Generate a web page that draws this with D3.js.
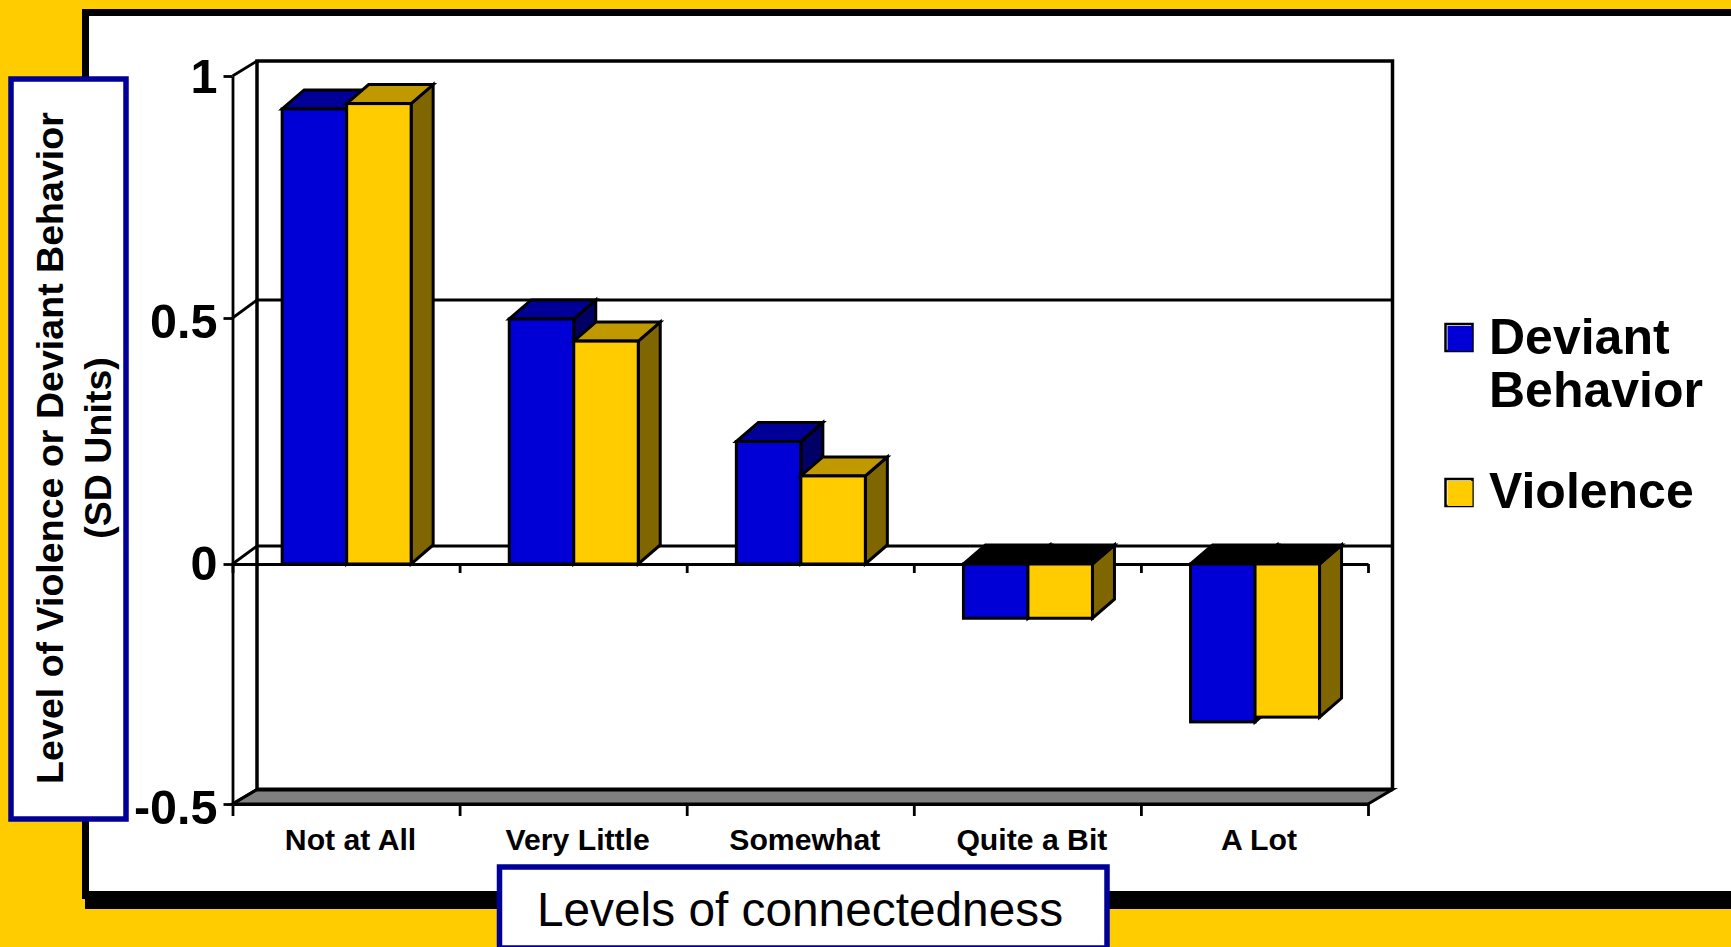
<!DOCTYPE html>
<html>
<head>
<meta charset="utf-8">
<script src="https://cdn.jsdelivr.net/npm/d3@7"></script>
<style>
html,body{margin:0;padding:0;background:#ffcc00;overflow:hidden}
svg{display:block}
text{font-family:"Liberation Sans",Arial,sans-serif;fill:#000}
</style>
</head>
<body>
<svg id="c" width="1731" height="947"></svg>
<script>
const categories = ["Not at All", "Very Little", "Somewhat", "Quite a Bit", "A Lot"];
const seriesNames = ["Deviant Behavior", "Violence"];
const deviantBehavior = [0.932, 0.498, 0.249, -0.113, -0.329];
const violence = [0.943, 0.453, 0.179, -0.113, -0.319];
const yTicks = [-0.5, 0, 0.5, 1];

const frontColors = ["#0000d6", "#ffcc00"];
const topColors = ["#000099", "#c09900"];
const sideColors = ["#000066", "#806600"];
const seriesValues = [deviantBehavior, violence];

const svg = d3.select("#c");
const L = 232.5, R = 1368, DX = 24.5;            // plot box and wall depth
const BDX = 22, BDY = 19;                        // bar depth

const y = d3.scaleLinear().domain([-0.5, 0, 0.5, 1]).range([804, 564, 318, 76]);
const yBack = d3.scaleLinear().domain([-0.5, 0, 0.5, 1]).range([789.5, 546, 300, 61]);
const x0 = d3.scaleBand().domain(categories).range([L, R]).paddingInner(0.432).paddingOuter(0.216);
const x1 = d3.scaleBand().domain(seriesNames).range([0, x0.bandwidth()]);
const xEdge = d3.scaleLinear().domain([0, categories.length]).range([L, R]);
const barShift = 0.6;

// panel
svg.append("rect").attr("x", 85).attr("y", 20).attr("width", 1660).attr("height", 889).attr("fill", "#000");
svg.append("rect").attr("x", 82).attr("y", 9).attr("width", 1660).attr("height", 890).attr("fill", "#000");
svg.append("rect").attr("x", 89).attr("y", 16).attr("width", 1660).attr("height", 875).attr("fill", "#fff");

const g = svg.append("g").attr("fill", "none").attr("stroke", "#000");

// floor
g.append("path")
  .attr("d", d3.line()([[L, y(-0.5)], [R, y(-0.5)], [R + DX, yBack(-0.5)], [L + DX, yBack(-0.5)]]) + "Z")
  .attr("fill", "#808080").attr("stroke-width", 3);

// back wall, gridlines and side wall
g.append("path").attr("stroke-width", 3.5)
  .attr("d", `M${L + DX},${yBack(-0.5)}V${yBack(1)}H${R + DX}V${yBack(-0.5)}`);
g.append("line").attr("x1", L + DX).attr("x2", R + DX).attr("y1", yBack(-0.5)).attr("y2", yBack(-0.5)).attr("stroke-width", 4);
g.selectAll(".grid").data([0, 0.5]).join("line").attr("class", "grid")
  .attr("x1", L + DX).attr("x2", R + DX)
  .attr("y1", d => yBack(d)).attr("y2", d => yBack(d)).attr("stroke-width", 2.8);
g.selectAll(".diag").data(yTicks).join("line").attr("class", "diag")
  .attr("x1", L).attr("x2", L + DX)
  .attr("y1", d => y(d)).attr("y2", d => yBack(d)).attr("stroke-width", 2.8);

// y axis
const yAxis = svg.append("g").attr("transform", `translate(${L},0)`)
  .call(d3.axisLeft(y).tickValues(yTicks).tickSize(9).tickSizeOuter(0).tickPadding(6).tickFormat(d => String(d)));
yAxis.select(".domain").attr("stroke", "#000").attr("stroke-width", 2.8);
yAxis.selectAll(".tick line").attr("stroke", "#000").attr("stroke-width", 2.8);
yAxis.selectAll(".tick text").attr("font-size", 48.5).attr("font-weight", 700)
  .attr("font-family", '"Liberation Sans"').attr("transform", d => `translate(0,${d === 0 ? 0 : d === 1 ? 1 : 4})`);

// tick marks on the zero plane and the floor
[0, -0.5].forEach(v => {
  const a = svg.append("g").attr("transform", `translate(0,${y(v)})`)
    .call(d3.axisBottom(xEdge).tickValues(d3.range(categories.length + 1)).tickSize(v === 0 ? 9 : 12).tickSizeOuter(0).tickFormat(""));
  a.select(".domain").attr("stroke", "#000").attr("stroke-width", 2.8);
  a.selectAll(".tick line").attr("stroke", "#000").attr("stroke-width", 2.8);
});

// category labels
const xAxis = svg.append("g").attr("transform", `translate(4.5,${y(-0.5)})`)
  .call(d3.axisBottom(x0).tickSize(0).tickPadding(25));
xAxis.select(".domain").remove();
xAxis.selectAll(".tick text").attr("font-size", 30.2).attr("font-weight", 700).attr("font-family", '"Liberation Sans"');

// bars
const bars = svg.append("g").attr("stroke", "#000").attr("stroke-width", 3).attr("stroke-linejoin", "miter");
categories.forEach((c, ci) => {
  seriesNames.forEach((s, si) => {
    const v = seriesValues[si][ci];
    const xl = x0(c) + x1(s) + barShift, xr = xl + x1.bandwidth();
    const yv = y(v), yz = y(0);
    const yt = Math.min(yv, yz), yb = Math.max(yv, yz);
    bars.append("path").attr("fill", sideColors[si])
      .attr("d", d3.line()([[xr, yt], [xr + BDX, yt - BDY], [xr + BDX, yb - BDY], [xr, yb]]) + "Z");
    bars.append("path").attr("fill", v < 0 ? "#000" : topColors[si])
      .attr("d", d3.line()([[xl, yt], [xl + BDX, yt - BDY], [xr + BDX, yt - BDY], [xr, yt]]) + "Z");
    bars.append("rect").attr("fill", frontColors[si])
      .attr("x", xl).attr("y", yt).attr("width", xr - xl).attr("height", yb - yt);
  });
});

// legend
const legendRows = [
  { lines: ["Deviant", "Behavior"], color: frontColors[0], boxY: 323, base: 354 },
  { lines: ["Violence"], color: frontColors[1], boxY: 478, base: 508 }
];
const lg = svg.append("g");
legendRows.forEach(r => {
  lg.append("rect").attr("x", 1445.5).attr("y", r.boxY + 1).attr("width", 27).attr("height", 27)
    .attr("fill", "#fff").attr("stroke", "#000").attr("stroke-width", 2.5);
  lg.append("rect").attr("x", 1447.5).attr("y", r.boxY + 3).attr("width", 25).attr("height", 25)
    .attr("fill", r.color);
  r.lines.forEach((t, i) => {
    lg.append("text").attr("x", 1489).attr("y", r.base + i * 53)
      .attr("font-size", 50).attr("font-weight", 700).text(t);
  });
});

// axis title boxes
svg.append("rect").attr("x", 11).attr("y", 79).attr("width", 115).attr("height", 740)
  .attr("fill", "#fff").attr("stroke", "#000099").attr("stroke-width", 5.5);
svg.append("rect").attr("x", 499.5).attr("y", 867).attr("width", 607.5).attr("height", 81)
  .attr("fill", "#fff").attr("stroke", "#000099").attr("stroke-width", 5.5);

const yt = svg.append("g").attr("transform", "translate(0,448) rotate(-90)")
  .attr("text-anchor", "middle").attr("font-weight", 700).attr("font-size", 37.6);
yt.append("text").attr("x", 0).attr("y", 63).text("Level of Violence or Deviant Behavior");
yt.append("text").attr("x", 0).attr("y", 111).text("(SD Units)");

svg.append("text").attr("x", 800).attr("y", 926).attr("text-anchor", "middle")
  .attr("font-size", 47.8).text("Levels of connectedness");
</script>
</body>
</html>
